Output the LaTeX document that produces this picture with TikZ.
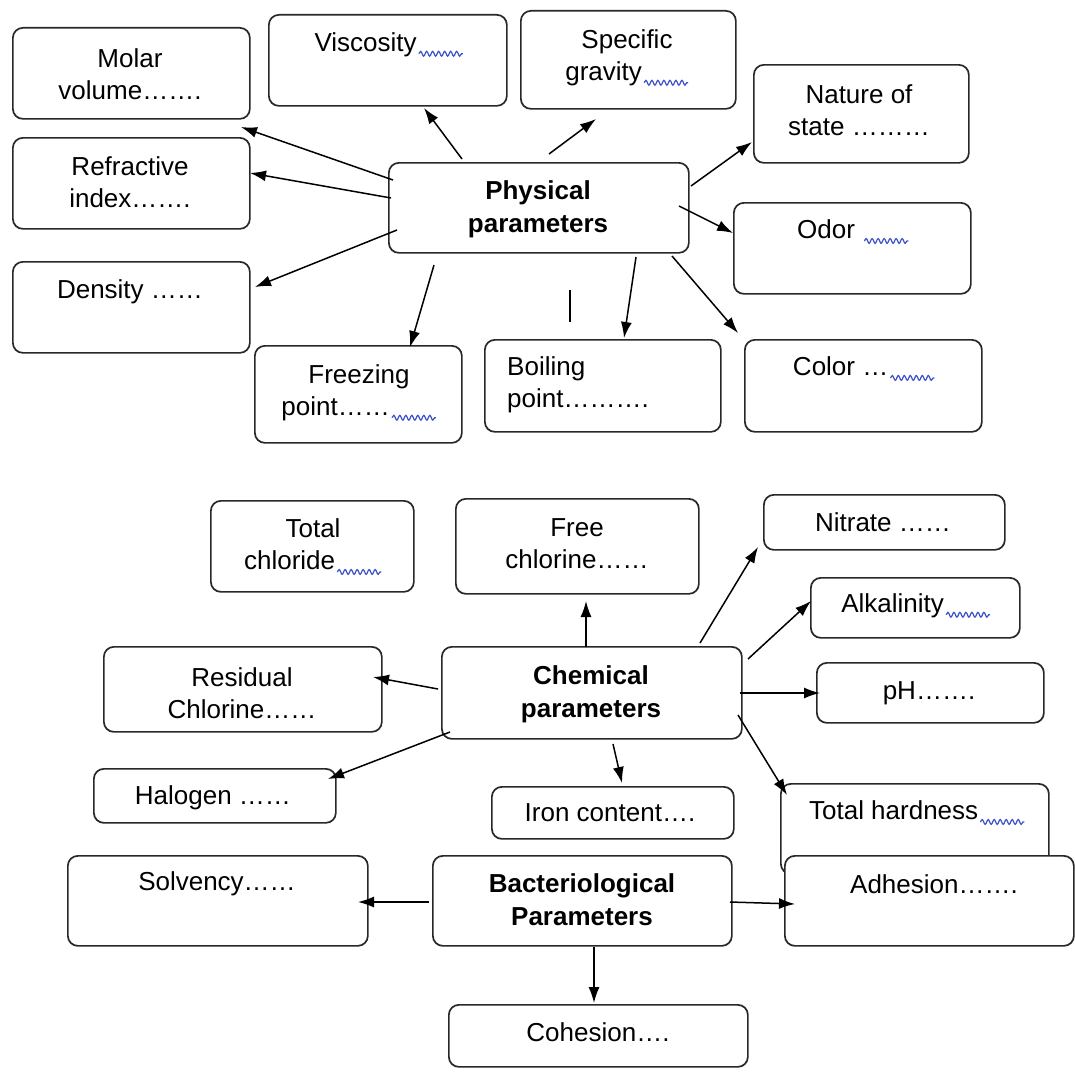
\documentclass[tikz,border=0pt]{standalone}
\usepackage{fontspec}
\setmainfont{Liberation Sans}
\usetikzlibrary{arrows.meta,decorations.pathmorphing}
\definecolor{boxline}{RGB}{40,40,40}
\definecolor{squigcol}{RGB}{60,80,200}
\newcommand\squig{\kern1.5pt\tikz[baseline=0pt]\draw[line width=1.2pt, draw=squigcol, decorate, decoration={snake, amplitude=2.4pt, segment length=6pt}] (0pt,-2pt) -- (44pt,-2pt);}
\newcommand\mybox[5]{\node[pbox, minimum width=#4pt, minimum height=#5pt] (#1) at (#2,#3) {};}
\begin{document}
\begin{tikzpicture}[x=1pt,y=-1pt,
  pbox/.style={draw=boxline, line width=1.7pt, rounded corners=10pt, fill=white, inner sep=0pt, anchor=north west},
  txt/.style={align=center, inner sep=0pt, font=\fontsize{26}{32}\selectfont},
  btxt/.style={align=center, inner sep=0pt, font=\fontsize{26}{33}\selectfont\bfseries},
  arr/.style={-{Latex[length=16pt,width=11pt]}, line width=1.5pt, black}]
\useasboundingbox (0,0) rectangle (1075,1073);
\fill[white] (0,0) rectangle (1075,1073);

% ---------- physical ----------
\mybox{molar}{12}{27}{237}{91}
\mybox{visc}{268}{14}{238}{91}
\mybox{spec}{520}{10}{215}{98}
\mybox{nature}{753}{64}{215}{98}
\mybox{refr}{12}{137}{237}{91}
\mybox{phys}{388}{162}{300}{90}
\mybox{odor}{733}{202}{237}{91}
\mybox{dens}{12}{261}{237}{91}
\mybox{freez}{254}{345}{207}{97}
\mybox{boil}{484}{339}{236}{92}
\mybox{color}{744}{339}{237}{92}

\node[txt] (molar-t) at (130,74) {Molar\\volume…….};
\node[txt] (visc-t) at (389,45) {Viscosity\squig};
\node[txt] (spec-t) at (627,58) {Specific\\gravity\squig};
\node[txt] (nature-t) at (859,110) {Nature of\\state ………};
\node[txt] (refr-t) at (130,182) {Refractive\\index…….};
\node[btxt] (phys-t) at (538,209) {Physical\\parameters};
\node[txt] (odor-t) at (853,232) {Odor \squig};
\node[txt] (dens-t) at (130,292) {Density ……};
\node[txt] (freez-t) at (359,393) {Freezing\\point……\squig};
\node[txt, align=left, anchor=west] (boil-t) at (507,385) {Boiling\\point……….};
\node[txt] (color-t) at (864,369) {Color …\squig};

\draw[arr] ([shift={(5,18)}]phys.north west) -- ([shift={(229,100)}]molar.north west);
\draw[arr] ([shift={(3,36)}]phys.north west) -- ([shift={(238,36)}]refr.north west);
\draw[arr] ([shift={(9,68)}]phys.north west) -- ([shift={(243,26)}]dens.north west);
\draw[arr] ([shift={(74,-3)}]phys.north west) -- ([shift={(156,94)}]visc.north west);
\draw[arr] ([shift={(161,-8)}]phys.north west) -- ([shift={(76,109)}]spec.north west);
\draw[arr] ([shift={(303,24)}]phys.north west) -- ([shift={(-1,78)}]nature.north west);
\draw[arr] ([shift={(291,44)}]phys.north west) -- ([shift={(0,31)}]odor.north west);
\draw[arr] ([shift={(46,103)}]phys.north west) -- ([shift={(156,2)}]freez.north west);
\draw[arr] ([shift={(248,95)}]phys.north west) -- ([shift={(140,-1)}]boil.north west);
\draw[arr] ([shift={(284,94)}]phys.north west) -- ([shift={(-6,-6)}]color.north west);
\coordinate (stray1) at (570,290);
\coordinate (stray2) at (570,322);
\draw[line width=1.5pt] (stray1) -- (stray2);

% ---------- chemical ----------
\mybox{tchl}{210}{500}{203}{91}
\mybox{free}{455}{498}{243}{95}
\mybox{nitr}{763}{494}{241}{55}
\mybox{alk}{810}{577}{209}{60}
\mybox{ph}{816}{662}{227}{60}
\mybox{chem}{441}{646}{300}{92}
\mybox{resid}{103}{646}{278}{85}
\mybox{halo}{93}{768}{242}{54}
\mybox{iron}{491}{786}{242}{52}
\mybox{thard}{780}{783}{268}{90}

\node[txt] (tchl-t) at (313,547) {Total\\chloride\squig};
\node[txt] (free-t) at (577,544) {Free\\chlorine……};
\node[txt] (nitr-t) at (883,522) {Nitrate ……};
\node[txt] (alk-t) at (916,606) {Alkalinity\squig};
\node[txt] (ph-t) at (929,693) {pH…….};
\node[btxt] (chem-t) at (591,694) {Chemical\\parameters};
\node[txt] (resid-t) at (242,693) {Residual\\Chlorine……};
\node[txt] (halo-t) at (213,798) {Halogen ……};
\node[txt] (iron-t) at (610,813) {Iron content….};
\node[txt] (thard-t) at (917,813) {Total hardness\squig};

\draw[arr] ([shift={(145,1)}]chem.north west) -- ([shift={(131,103)}]free.north west);
\draw[arr] ([shift={(259,-3)}]chem.north west) -- ([shift={(-5,53)}]nitr.north west);
\draw[arr] ([shift={(307,13)}]chem.north west) -- ([shift={(1,24)}]alk.north west);
\draw[arr] ([shift={(299,47)}]chem.north west) -- ([shift={(4,31)}]ph.north west);
\draw[arr] ([shift={(297,69)}]chem.north west) -- ([shift={(7,12)}]thard.north west);
\draw[arr] ([shift={(172,98)}]chem.north west) -- ([shift={(131,-3)}]iron.north west);
\draw[arr] ([shift={(-3,43)}]chem.north west) -- ([shift={(270,31)}]resid.north west);
\draw[arr] ([shift={(9,86)}]chem.north west) -- ([shift={(235,11)}]halo.north west);

% ---------- bacteriological ----------
\mybox{bact}{432}{855}{299}{90}
\mybox{solv}{67}{855}{300}{90}
\mybox{adh}{784}{855}{289}{90}
\mybox{coh}{448}{1004}{299}{62}

\node[btxt] (bact-t) at (582,900) {Bacteriological\\Parameters};
\node[txt] (solv-t) at (217,884) {Solvency……};
\node[txt] (adh-t) at (934,884) {Adhesion…….};
\node[txt] (coh-t) at (598,1032) {Cohesion….};

\draw[arr] ([shift={(-3,47)}]bact.north west) -- ([shift={(291,47)}]solv.north west);
\draw[arr] ([shift={(298,47)}]bact.north west) -- ([shift={(11,49)}]adh.north west);
\draw[arr] ([shift={(162,92)}]bact.north west) -- ([shift={(146,-1)}]coh.north west);
\end{tikzpicture}
\end{document}
